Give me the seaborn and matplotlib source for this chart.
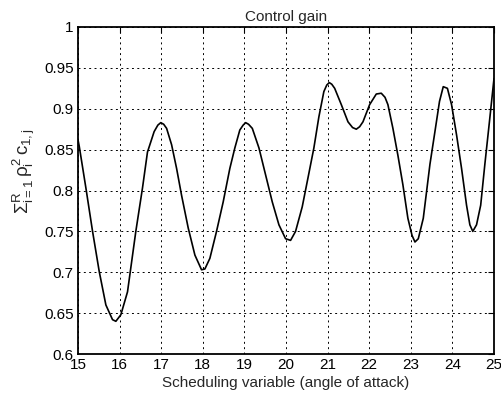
import matplotlib
matplotlib.use("Agg")
import matplotlib.pyplot as plt
import seaborn as sns
import pandas as pd

angle = [15.0, 15.03, 15.19, 15.35, 15.51, 15.67, 15.83, 15.91, 16.03, 16.19, 16.39, 16.55, 16.67, 16.83,
         16.92, 16.99, 17.06, 17.13, 17.25, 17.37, 17.49, 17.65, 17.81, 17.97, 18.05, 18.17, 18.33, 18.49,
         18.65, 18.77, 18.89, 18.97, 19.03, 19.10, 19.19, 19.35, 19.51, 19.67, 19.83, 19.99, 20.11, 20.23,
         20.39, 20.55, 20.67, 20.79, 20.91, 20.98, 21.04, 21.10, 21.17, 21.33, 21.49, 21.60, 21.69, 21.77,
         21.85, 22.01, 22.17, 22.29, 22.38, 22.45, 22.57, 22.69, 22.81, 22.93, 23.03, 23.10, 23.18, 23.30,
         23.38, 23.46, 23.58, 23.69, 23.78, 23.88, 23.98, 24.10, 24.22, 24.34, 24.42, 24.49, 24.58, 24.68,
         24.78, 24.89, 25.0]
gain = [0.862, 0.854, 0.803, 0.750, 0.701, 0.660, 0.642, 0.640, 0.648, 0.676, 0.750, 0.803, 0.847, 0.872,
        0.880, 0.883, 0.881, 0.876, 0.856, 0.827, 0.794, 0.754, 0.721, 0.703, 0.704, 0.717, 0.750, 0.786,
        0.827, 0.852, 0.874, 0.880, 0.883, 0.881, 0.876, 0.852, 0.819, 0.786, 0.758, 0.741, 0.739, 0.750,
        0.780, 0.821, 0.852, 0.890, 0.921, 0.929, 0.932, 0.930, 0.925, 0.905, 0.884, 0.877, 0.875, 0.878,
        0.884, 0.905, 0.918, 0.919, 0.914, 0.905, 0.876, 0.843, 0.807, 0.766, 0.745, 0.737, 0.741, 0.766,
        0.799, 0.832, 0.872, 0.909, 0.927, 0.925, 0.905, 0.868, 0.827, 0.782, 0.758, 0.750, 0.758, 0.782,
        0.832, 0.884, 0.937]

xticks = [15, 16, 17, 18, 19, 20, 21, 22, 23, 24, 25]
yticks = [0.6, 0.65, 0.7, 0.75, 0.8, 0.85, 0.9, 0.95, 1.0]
ytick_labels = ["0.6", "0.65", "0.7", "0.75", "0.8", "0.85", "0.9", "0.95", "1"]

sns.set_style("white")
plt.rcParams["font.family"] = ["Liberation Sans", "DejaVu Sans"]
plt.rcParams["mathtext.fontset"] = "custom"
plt.rcParams["mathtext.rm"] = "Liberation Sans"
plt.rcParams["mathtext.it"] = "Liberation Sans"
plt.rcParams["mathtext.bf"] = "Liberation Sans:bold"

df = pd.DataFrame({"angle": angle, "gain": gain})

fig = plt.figure(figsize=(5.02, 4.01), dpi=100)
ax = fig.add_axes([78 / 502, 47 / 401, 416 / 502, 327 / 401])
sns.lineplot(data=df, x="angle", y="gain", ax=ax, color="black", linewidth=1.2, sort=True)
for ln in ax.get_lines():
    ln.set_solid_joinstyle("round")

ax.set_xlim(15, 25)
ax.set_ylim(0.6, 1.0)
ax.set_xticks(xticks)
ax.set_xticklabels([str(t) for t in xticks])
ax.set_yticks(yticks)
ax.set_yticklabels(ytick_labels)
ax.grid(True, color="black", linestyle=(0, (2, 3.5)), linewidth=0.7)
ax.tick_params(direction="in", top=True, right=True, length=4, width=0.8,
               labelsize=11, colors="black", pad=3)
for s in ax.spines.values():
    s.set_visible(True)
    s.set_color("black")
    s.set_linewidth(1.3)

ax.set_title("Control gain", fontsize=11, pad=4)
ax.set_xlabel("Scheduling variable (angle of attack)", fontsize=11, labelpad=3)
ax.set_ylabel(r"$\Sigma^{R}_{i=1}\,\rho^{2}_{i}\,c_{1,j}$", fontsize=13.5)
ax.yaxis.set_label_coords(-0.098, 0.56)

fig.savefig("out.png", dpi=100)
